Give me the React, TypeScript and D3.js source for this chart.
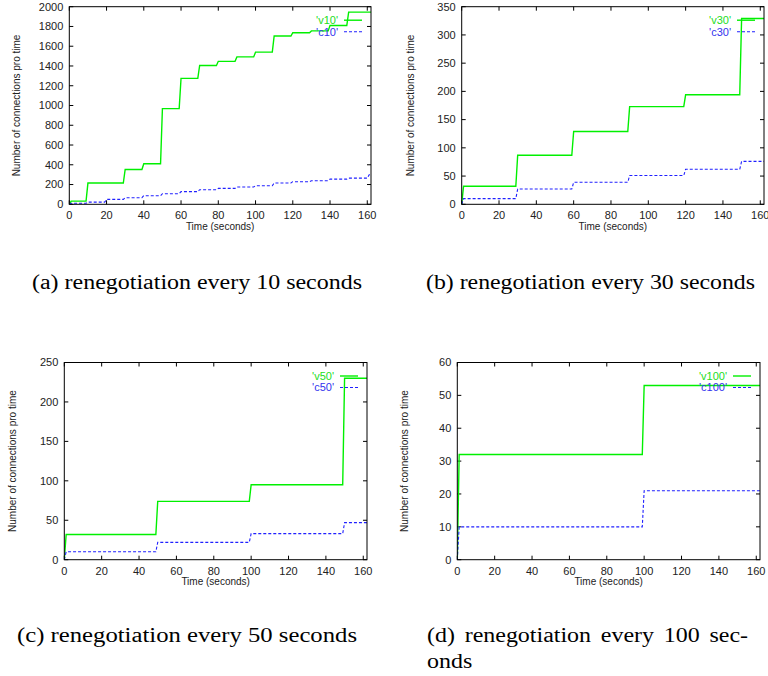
import React from 'react';
import * as d3 from 'd3';

// ---------- data ----------
const timeTicks = [0, 20, 40, 60, 80, 100, 120, 140, 160];
const xMax = 162;

const yTicksA = [0, 200, 400, 600, 800, 1000, 1200, 1400, 1600, 1800, 2000];
const yTicksB = [0, 50, 100, 150, 200, 250, 300, 350];
const yTicksC = [0, 50, 100, 150, 200, 250];
const yTicksD = [0, 10, 20, 30, 40, 50, 60];

const v10Times = [0, 1, 10, 30, 40, 50, 60, 70, 80, 90, 100, 110, 120, 130, 140, 150];
const v10Values = [0, 32, 215, 352, 410, 968, 1275, 1405, 1447, 1492, 1540, 1703, 1737, 1755, 1810, 1945];
const c10Times = [0, 1, 10, 20, 30, 40, 50, 60, 70, 80, 90, 100, 110, 120, 130, 140, 150, 161];
const c10Values = [0, 10, 22, 50, 67, 87, 107, 128, 148, 161, 175, 188, 215, 229, 239, 255, 265, 299];

const v30Times = [0, 1, 30, 60, 90, 120, 150];
const v30Values = [0, 32, 87, 129, 173, 194, 329];
const c30Times = [0, 1, 30, 60, 90, 120, 150];
const c30Values = [0, 10, 27, 39, 51, 62, 76];

const v50Times = [0, 1, 50, 100, 150];
const v50Values = [0, 32, 74, 95, 230];
const c50Times = [0, 1, 50, 100, 150];
const c50Values = [0, 10, 22, 33, 47];

const v100Times = [0, 1, 100];
const v100Values = [0, 32, 53];
const c100Times = [0, 1, 100];
const c100Values = [0, 10, 21];

const seriesNames = ["'v10'", "'c10'", "'v30'", "'c30'", "'v50'", "'c50'", "'v100'", "'c100'"];
const captions = [
  '(a) renegotiation every 10 seconds',
  '(b) renegotiation every 30 seconds',
  '(c) renegotiation every 50 seconds',
  '(d) renegotiation every 100 sec-',
  'onds',
];
const yLabel = 'Number of connections pro time';
const xLabel = 'Time (seconds)';

// ---------- styling ----------
const SANS = "'Liberation Sans', Arial, Helvetica, sans-serif";
const SERIF = "'Liberation Serif', 'Times New Roman', serif";
const GREEN = '#00f000';
const BLUE = '#2020ff';

function stepPoints(times: number[], values: number[]): [number, number][] {
  const pts: [number, number][] = [[times[0], values[0]]];
  for (let i = 1; i < times.length; i++) {
    pts.push([times[i] - 1, values[i - 1]]);
    pts.push([times[i], values[i]]);
  }
  pts.push([xMax, values[values.length - 1]]);
  return pts;
}

type PanelProps = {
  id: string;
  left: number; top: number; right: number; bottom: number;
  yMax: number; yTicks: number[];
  vTimes: number[]; vValues: number[]; cTimes: number[]; cValues: number[];
  vName: string; cName: string;
  yLabelX: number;
};

function Panel(p: PanelProps) {
  const x = d3.scaleLinear().domain([0, xMax]).range([p.left, p.right]);
  const y = d3.scaleLinear().domain([0, p.yMax]).range([p.bottom, p.top]);
  const line = d3.line<[number, number]>().x(d => x(d[0])).y(d => y(d[1]));
  const vPath = line(stepPoints(p.vTimes, p.vValues)) || '';
  const cPath = line(stepPoints(p.cTimes, p.cValues)) || '';
  const tl = 4;
  const legY1 = p.top + 13.5;
  const legY2 = p.top + 25;
  const legTextX = p.right - 33;
  return (
    <g>
      <defs>
        <clipPath id={p.id}>
          <rect x={p.left} y={p.top} width={p.right - p.left} height={p.bottom - p.top} />
        </clipPath>
      </defs>
      {timeTicks.map(t => (
        <g key={'xt' + t}>
          <line x1={x(t)} x2={x(t)} y1={p.bottom} y2={p.bottom - tl} stroke="#000" strokeWidth={1} />
          <line x1={x(t)} x2={x(t)} y1={p.top} y2={p.top + tl} stroke="#000" strokeWidth={1} />
          <text x={x(t)} y={p.bottom + 15} textAnchor="middle" fontFamily={SANS} fontSize={11} fill="#222">{t}</text>
        </g>
      ))}
      {p.yTicks.map(v => (
        <g key={'yt' + v}>
          <line x1={p.left} x2={p.left + tl} y1={y(v)} y2={y(v)} stroke="#000" strokeWidth={1} />
          <line x1={p.right} x2={p.right - tl} y1={y(v)} y2={y(v)} stroke="#000" strokeWidth={1} />
          <text x={p.left - 6} y={y(v)} dy="0.35em" textAnchor="end" fontFamily={SANS} fontSize={11} fill="#222">{v}</text>
        </g>
      ))}
      <g clipPath={`url(#${p.id})`}>
        <path d={vPath} fill="none" stroke={GREEN} strokeWidth={1.4} />
        <path d={cPath} fill="none" stroke={BLUE} strokeWidth={1.1} strokeDasharray="3,2" />
      </g>
      <text x={legTextX} y={legY1} dy="0.35em" textAnchor="end" fontFamily={SANS} fontSize={11} fill="#22dd22">{p.vName}</text>
      <line x1={p.right - 27} x2={p.right - 9} y1={legY1} y2={legY1} stroke={GREEN} strokeWidth={1.4} />
      <text x={legTextX} y={legY2} dy="0.35em" textAnchor="end" fontFamily={SANS} fontSize={11} fill="#3333ee">{p.cName}</text>
      <line x1={p.right - 27} x2={p.right - 9} y1={legY2} y2={legY2} stroke={BLUE} strokeWidth={1.1} strokeDasharray="3,2" />
      <rect x={p.left} y={p.top} width={p.right - p.left} height={p.bottom - p.top} fill="none" stroke="#000" strokeWidth={1} />
      <text x={(p.left + p.right) / 2} y={p.bottom + 25.5} textAnchor="middle" fontFamily={SANS} fontSize={10} fill="#222">{xLabel}</text>
      <text transform={`translate(${p.yLabelX},${(p.top + p.bottom) / 2}) rotate(-90)`} dy="0.35em" textAnchor="middle" fontFamily={SANS} fontSize={10} fill="#222">{yLabel}</text>
    </g>
  );
}

let measureCtx: CanvasRenderingContext2D | null = null;
function measure(s: string, font: string): number {
  if (!measureCtx) {
    const c = document.createElement('canvas');
    measureCtx = c.getContext('2d');
  }
  if (!measureCtx) return s.length * 9;
  measureCtx.font = font;
  return measureCtx.measureText(s).width;
}

function JustifiedLine({ text, x0, x1, y, fontSize, scale }: { text: string; x0: number; x1: number; y: number; fontSize: number; scale: number }) {
  const words = text.split(' ');
  const font = `${fontSize}px 'Liberation Serif'`;
  const widths = words.map(w => measure(w, font) * scale);
  const total = widths.reduce((a, b) => a + b, 0);
  const gap = (x1 - x0 - total) / (words.length - 1);
  let cx = x0;
  return (
    <g>
      {words.map((w, i) => {
        const el = (
          <text key={i} x={cx} y={y} fontFamily={SERIF} fontSize={fontSize} fill="#000" textLength={widths[i]} lengthAdjust="spacingAndGlyphs">{w}</text>
        );
        cx += widths[i] + gap;
        return el;
      })}
    </g>
  );
}

export default function App() {
  const capFont = 20;
  const natural = measure(captions[0], `${capFont}px 'Liberation Serif'`);
  const scale = natural > 0 ? 330 / natural : 1;
  return (
    <svg width={768} height={676} style={{ position: 'absolute', left: 0, top: 0, background: '#fff' }}>
      <rect x={0} y={0} width={768} height={676} fill="#fff" />
      <Panel id="ca" left={69.3} top={6.7} right={371} bottom={204.3} yMax={2000} yTicks={yTicksA}
        vTimes={v10Times} vValues={v10Values} cTimes={c10Times} cValues={c10Values}
        vName={seriesNames[0]} cName={seriesNames[1]} yLabelX={16.5} />
      <Panel id="cb" left={461.7} top={6.7} right={764} bottom={204.3} yMax={350} yTicks={yTicksB}
        vTimes={v30Times} vValues={v30Values} cTimes={c30Times} cValues={c30Values}
        vName={seriesNames[2]} cName={seriesNames[3]} yLabelX={410} />
      <Panel id="cc" left={64.3} top={362.5} right={367} bottom={559.7} yMax={250} yTicks={yTicksC}
        vTimes={v50Times} vValues={v50Values} cTimes={c50Times} cValues={c50Values}
        vName={seriesNames[4]} cName={seriesNames[5]} yLabelX={12} />
      <Panel id="cd" left={457.3} top={362.5} right={760} bottom={559.7} yMax={60} yTicks={yTicksD}
        vTimes={v100Times} vValues={v100Values} cTimes={c100Times} cValues={c100Values}
        vName={seriesNames[6]} cName={seriesNames[7]} yLabelX={404.5} />

      <text x={32} y={289} fontFamily={SERIF} fontSize={capFont} textLength={330} lengthAdjust="spacingAndGlyphs">{captions[0]}</text>
      <text x={426} y={289} fontFamily={SERIF} fontSize={capFont} textLength={329} lengthAdjust="spacingAndGlyphs">{captions[1]}</text>
      <text x={17} y={642} fontFamily={SERIF} fontSize={capFont} textLength={340} lengthAdjust="spacingAndGlyphs">{captions[2]}</text>
      <JustifiedLine text={captions[3]} x0={427} x1={748} y={642} fontSize={capFont} scale={scale} />
      <text x={427} y={668} fontFamily={SERIF} fontSize={capFont} textLength={measure(captions[4], `${capFont}px 'Liberation Serif'`) * scale} lengthAdjust="spacingAndGlyphs">{captions[4]}</text>
    </svg>
  );
}
